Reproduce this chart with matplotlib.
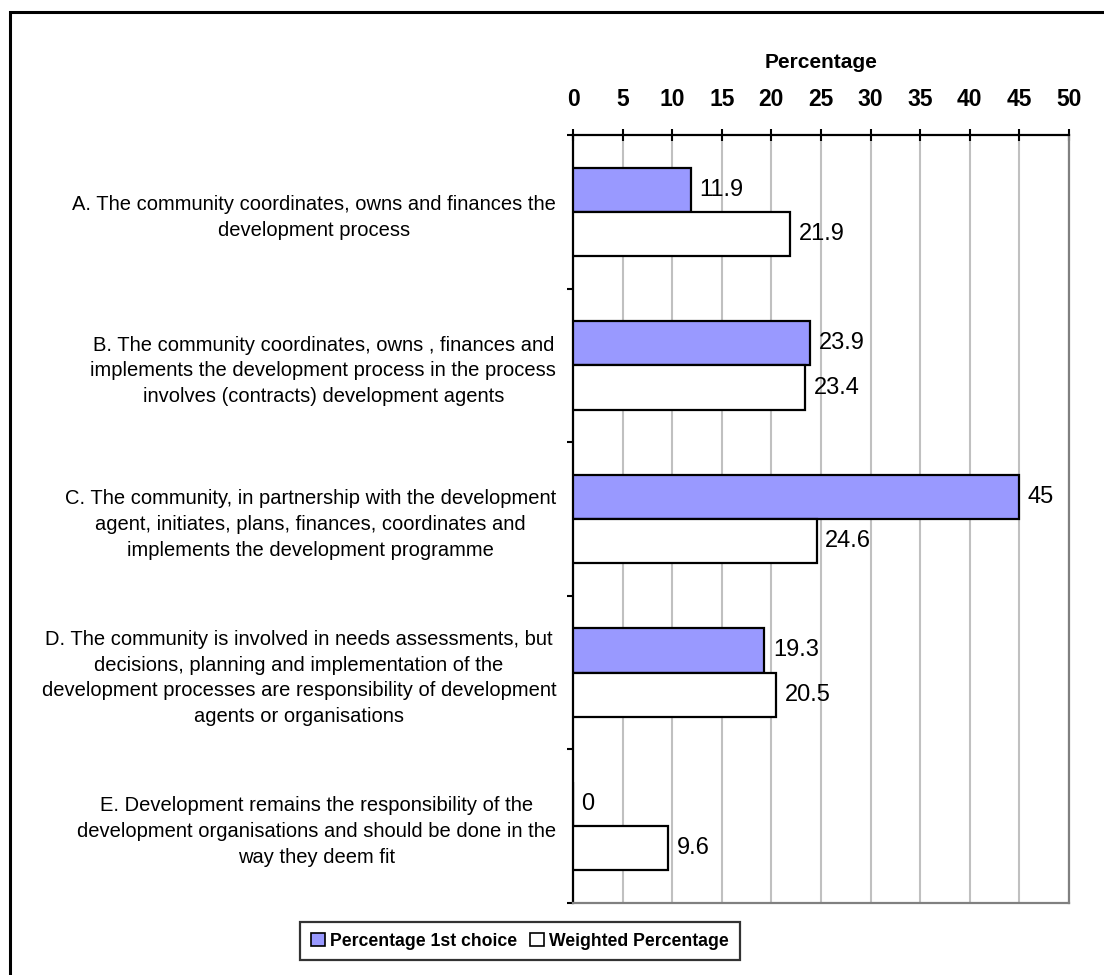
import matplotlib
matplotlib.use("Agg")
import matplotlib.pyplot as plt
from matplotlib.patches import Rectangle, Patch
import numpy as np

plt.rcParams['font.family'] = ['Liberation Sans', 'DejaVu Sans']

categories = [
    "A. The community coordinates, owns and finances the\ndevelopment process",
    "B. The community coordinates, owns , finances and\nimplements the development process in the process\ninvolves (contracts) development agents",
    "C. The community, in partnership with the development\nagent, initiates, plans, finances, coordinates and\nimplements the development programme",
    "D. The community is involved in needs assessments, but\ndecisions, planning and implementation of the\ndevelopment processes are responsibility of development\nagents or organisations",
    "E. Development remains the responsibility of the\ndevelopment organisations and should be done in the\nway they deem fit",
]
first_choice = [11.9, 23.9, 45, 19.3, 0]
weighted = [21.9, 23.4, 24.6, 20.5, 9.6]
series_names = ["Percentage 1st choice", "Weighted Percentage"]
x_ticks = list(range(0, 51, 5))

fig = plt.figure(figsize=(11.04, 9.75), dpi=100)
ax = fig.add_axes([573 / 1104, 1 - 903 / 975, (1069 - 573) / 1104, (903 - 135) / 975])

y = np.arange(len(categories))
h = 0.288
purple = "#9999FF"

ax.barh(y - h / 2, first_choice, height=h, color=purple, edgecolor="black", linewidth=1.6, zorder=3)
ax.barh(y + h / 2, weighted, height=h, color="white", edgecolor="black", linewidth=1.6, zorder=3)

for yi, v in zip(y, first_choice):
    ax.annotate(f"{v:g}", (v, yi - h / 2), xytext=(6, 0), textcoords="offset points",
                va="center", ha="left", fontsize=17, zorder=4)
for yi, v in zip(y, weighted):
    ax.annotate(f"{v:g}", (v, yi + h / 2), xytext=(6, 0), textcoords="offset points",
                va="center", ha="left", fontsize=17, zorder=4)

ax.set_xlim(0, 50)
ax.set_ylim(len(categories) - 0.5, -0.5)

# value axis on top
ax.xaxis.tick_top()
ax.set_xticks(x_ticks)
ax.set_xticklabels([str(t) for t in x_ticks], fontsize=16.5, fontweight="bold")
ax.tick_params(axis="x", direction="inout", length=8, width=1.5, pad=13)
ax.grid(axis="x", color="#C0C0C0", linewidth=1.5, zorder=0)

# category axis: tick marks between groups, labels at group centres
ax.set_yticks(np.arange(-0.5, len(categories), 1.0))
ax.set_yticklabels([])
ax.set_yticks(y, minor=True)
ax.set_yticklabels(categories, minor=True, fontsize=14.5, multialignment="center",
                   linespacing=1.45)
ax.tick_params(axis="y", which="major", direction="out", length=4, width=1.5)
ax.tick_params(axis="y", which="minor", length=0, pad=12)

for s in ("left", "top"):
    ax.spines[s].set_color("black")
    ax.spines[s].set_linewidth(1.6)
for s in ("right", "bottom"):
    ax.spines[s].set_color("#808080")
    ax.spines[s].set_linewidth(1.6)

fig.text((573 + 1069) / 2 / 1104, 1 - 62 / 975, "Percentage", ha="center", va="center",
         fontsize=15, fontweight="bold")

handles = [Patch(facecolor=purple, edgecolor="black", linewidth=1.2),
           Patch(facecolor="white", edgecolor="black", linewidth=1.2)]
leg = fig.legend(handles, series_names, loc="center", bbox_to_anchor=(520 / 1104, 1 - 941 / 975),
                 ncol=2, frameon=True, fancybox=False, handlelength=0.8, handleheight=0.8,
                 handletextpad=0.3, columnspacing=0.7, borderpad=0.6, borderaxespad=0,
                 prop={"weight": "bold", "size": 12.7})
leg.get_frame().set_edgecolor("black")
leg.get_frame().set_linewidth(1.6)

# outer chart border
fig.patches.append(Rectangle((10 / 1104, -0.1), 1.2, 1.1 - 12 / 975, transform=fig.transFigure,
                             fill=False, edgecolor="black", linewidth=2.2, clip_on=False))

fig.savefig("out.png", dpi=100)
